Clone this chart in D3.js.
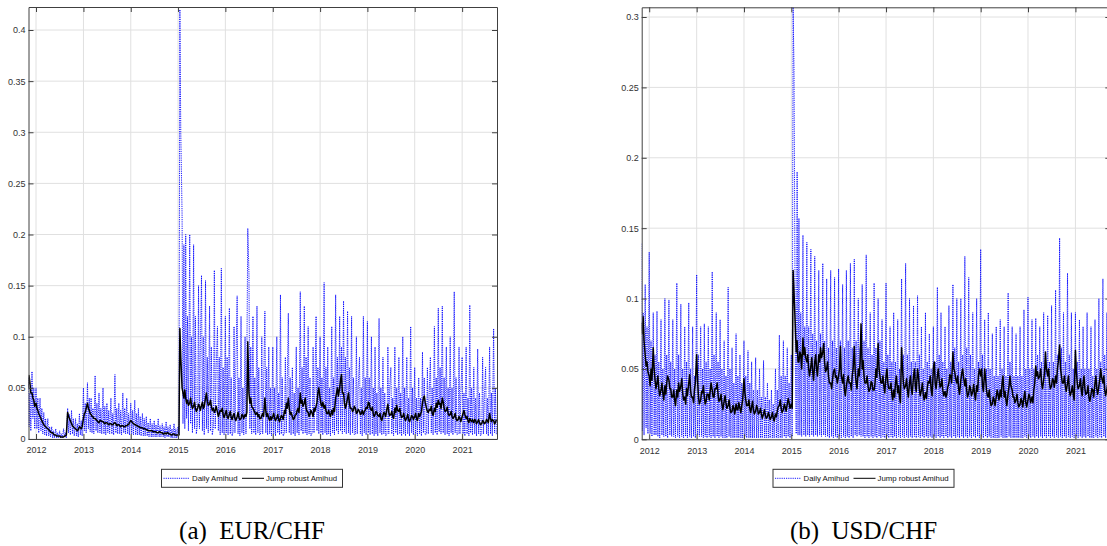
<!DOCTYPE html>
<html>
<head>
<meta charset="utf-8">
<script src="https://cdn.jsdelivr.net/npm/d3@7"></script>
<style>
  body { margin: 0; background: #fff; }
  svg { display: block; }
</style>
</head>
<body>
<svg id="chart" width="1107" height="546"></svg>
<script>
// weekly readings (1st, 8th, 15th, 22nd of each month), Nov 2011 - Sep 2021
// one row per year, four values per month
const yearTicks = [2012, 2013, 2014, 2015, 2016, 2017, 2018, 2019, 2020, 2021];
const eurYTicks = [0, 0.05, 0.1, 0.15, 0.2, 0.25, 0.3, 0.35, 0.4];
const usdYTicks = [0, 0.05, 0.1, 0.15, 0.2, 0.25, 0.3];
const legendLabels = ["Daily Amihud", "Jump robust Amihud"];
const captions = ["(a)  EUR/CHF", "(b)  USD/CHF"];

const eurDaily = [
  0.06, 0.012, 0.045, 0.008, 0.066, 0.02, 0.05, 0.01,
  0.05, 0.01, 0.04, 0.006, 0.04, 0.008, 0.03, 0.005, 0.026, 0.004, 0.02, 0.003, 0.02, 0.003, 0.012, 0.002,
  0.012, 0.001, 0.008, 0.001, 0.01, 0.001, 0.006, 0.001, 0.008, 0.001, 0.005, 0.001, 0.01, 0.002, 0.006, 0.001,
  0.03, 0.006, 0.024, 0.004, 0.028, 0.005, 0.02, 0.003, 0.02, 0.003, 0.015, 0.002, 0.025, 0.004, 0.018, 0.003,
  0.05, 0.008, 0.035, 0.006, 0.055, 0.01, 0.04, 0.007, 0.04, 0.006, 0.03, 0.005, 0.062, 0.008, 0.035, 0.006,
  0.045, 0.006, 0.03, 0.005, 0.05, 0.005, 0.032, 0.004, 0.035, 0.006, 0.028, 0.005, 0.04, 0.005, 0.025, 0.004,
  0.063, 0.006, 0.03, 0.005, 0.035, 0.005, 0.028, 0.004, 0.045, 0.006, 0.03, 0.005, 0.04, 0.005, 0.025, 0.004,
  0.035, 0.005, 0.028, 0.004, 0.038, 0.004, 0.025, 0.004, 0.03, 0.004, 0.022, 0.003, 0.025, 0.003, 0.02, 0.003,
  0.022, 0.003, 0.016, 0.002, 0.02, 0.002, 0.015, 0.002, 0.018, 0.002, 0.014, 0.002, 0.02, 0.002, 0.013, 0.002,
  0.015, 0.002, 0.012, 0.001, 0.017, 0.002, 0.012, 0.002, 0.014, 0.001, 0.01, 0.001, 0.015, 0.001, 0.01, 0.001,
  0.012, 0.004, 0.42, 0.3, 0.22, 0.015, 0.19, 0.01, 0.2, 0.02, 0.12, 0.008, 0.2, 0.015, 0.1, 0.006,
  0.19, 0.01, 0.12, 0.005, 0.015, 0.15, 0.01, 0.09, 0.16, 0.008, 0.1, 0.004, 0.155, 0.01, 0.08, 0.006,
  0.13, 0.008, 0.09, 0.004, 0.012, 0.165, 0.01, 0.07, 0.11, 0.008, 0.08, 0.004, 0.167, 0.006, 0.07, 0.004,
  0.12, 0.006, 0.08, 0.004, 0.128, 0.005, 0.06, 0.003, 0.007, 0.11, 0.006, 0.07, 0.14, 0.005, 0.06, 0.003,
  0.12, 0.006, 0.05, 0.004, 0.1, 0.005, 0.08, 0.206, 0.162, 0.01, 0.09, 0.005, 0.12, 0.006, 0.06, 0.004,
  0.13, 0.006, 0.07, 0.004, 0.006, 0.1, 0.005, 0.05, 0.125, 0.006, 0.07, 0.004, 0.09, 0.005, 0.05, 0.003,
  0.09, 0.005, 0.05, 0.003, 0.1, 0.006, 0.045, 0.004, 0.141, 0.005, 0.06, 0.003, 0.006, 0.08, 0.006, 0.05,
  0.123, 0.006, 0.06, 0.004, 0.07, 0.005, 0.045, 0.003, 0.09, 0.006, 0.05, 0.004, 0.144, 0.008, 0.07, 0.005,
  0.13, 0.006, 0.08, 0.004, 0.11, 0.005, 0.06, 0.003, 0.006, 0.09, 0.006, 0.05, 0.12, 0.008, 0.07, 0.005,
  0.1, 0.006, 0.06, 0.004, 0.153, 0.006, 0.07, 0.004, 0.09, 0.005, 0.05, 0.003, 0.11, 0.006, 0.06, 0.004,
  0.141, 0.008, 0.08, 0.005, 0.12, 0.008, 0.09, 0.005, 0.135, 0.007, 0.08, 0.005, 0.125, 0.006, 0.07, 0.004,
  0.12, 0.006, 0.06, 0.004, 0.005, 0.1, 0.005, 0.05, 0.08, 0.005, 0.05, 0.003, 0.12, 0.006, 0.06, 0.004,
  0.115, 0.006, 0.06, 0.004, 0.1, 0.005, 0.05, 0.003, 0.09, 0.005, 0.045, 0.003, 0.118, 0.006, 0.05, 0.004,
  0.08, 0.005, 0.045, 0.003, 0.005, 0.09, 0.005, 0.05, 0.07, 0.005, 0.04, 0.003, 0.09, 0.006, 0.05, 0.004,
  0.08, 0.005, 0.045, 0.003, 0.1, 0.005, 0.05, 0.003, 0.08, 0.005, 0.04, 0.003, 0.11, 0.006, 0.05, 0.004,
  0.07, 0.005, 0.04, 0.003, 0.06, 0.005, 0.04, 0.003, 0.085, 0.006, 0.06, 0.004, 0.005, 0.07, 0.005, 0.045,
  0.08, 0.006, 0.05, 0.004, 0.11, 0.006, 0.06, 0.004, 0.128, 0.007, 0.07, 0.005, 0.13, 0.006, 0.06, 0.004,
  0.09, 0.005, 0.05, 0.003, 0.1, 0.006, 0.05, 0.004, 0.144, 0.006, 0.06, 0.004, 0.005, 0.09, 0.005, 0.045,
  0.08, 0.005, 0.045, 0.003, 0.09, 0.005, 0.04, 0.003, 0.131, 0.006, 0.05, 0.004, 0.07, 0.005, 0.04, 0.003,
  0.088, 0.005, 0.045, 0.003, 0.005, 0.08, 0.005, 0.04, 0.07, 0.005, 0.04, 0.003, 0.09, 0.005, 0.045, 0.003,
  0.108, 0.006, 0.05, 0.004
];

const eurRobust = [
  0.05, 0.062, 0.055, 0.045, 0.045, 0.04, 0.038, 0.032,
  0.035, 0.03, 0.028, 0.025, 0.022, 0.02, 0.018, 0.016, 0.014, 0.013, 0.012, 0.011, 0.01, 0.009, 0.008, 0.007,
  0.006, 0.006, 0.005, 0.004, 0.004, 0.003, 0.003, 0.003, 0.003, 0.002, 0.002, 0.002, 0.002, 0.003, 0.003, 0.004,
  0.026, 0.022, 0.02, 0.018, 0.015, 0.013, 0.012, 0.011, 0.01, 0.009, 0.008, 0.009, 0.012, 0.011, 0.01, 0.012,
  0.02, 0.025, 0.026, 0.03, 0.035, 0.03, 0.028, 0.025, 0.024, 0.022, 0.022, 0.02, 0.02, 0.019, 0.018, 0.017,
  0.016, 0.018, 0.018, 0.017, 0.017, 0.016, 0.015, 0.016, 0.016, 0.015, 0.014, 0.015, 0.015, 0.014, 0.014, 0.015,
  0.016, 0.015, 0.013, 0.014, 0.014, 0.013, 0.012, 0.013, 0.013, 0.012, 0.012, 0.013, 0.013, 0.014, 0.014, 0.016,
  0.018, 0.017, 0.016, 0.015, 0.014, 0.014, 0.013, 0.013, 0.012, 0.012, 0.011, 0.011, 0.011, 0.01, 0.01, 0.01,
  0.009, 0.009, 0.008, 0.008, 0.008, 0.008, 0.008, 0.007, 0.007, 0.007, 0.007, 0.006, 0.006, 0.007, 0.007, 0.006,
  0.006, 0.005, 0.005, 0.006, 0.005, 0.006, 0.006, 0.005, 0.005, 0.004, 0.004, 0.005, 0.005, 0.004, 0.004, 0.004,
  0.004, 0.004, 0.108, 0.08, 0.05, 0.045, 0.04, 0.048, 0.04, 0.035, 0.038, 0.033, 0.035, 0.04, 0.033, 0.03,
  0.032, 0.036, 0.03, 0.027, 0.03, 0.034, 0.032, 0.028, 0.033, 0.036, 0.03, 0.032, 0.04, 0.045, 0.037, 0.033,
  0.034, 0.038, 0.032, 0.028, 0.03, 0.026, 0.028, 0.032, 0.026, 0.022, 0.025, 0.028, 0.027, 0.03, 0.024, 0.021,
  0.025, 0.028, 0.022, 0.02, 0.024, 0.027, 0.021, 0.019, 0.023, 0.025, 0.02, 0.018, 0.022, 0.026, 0.021, 0.019,
  0.02, 0.024, 0.023, 0.02, 0.024, 0.022, 0.026, 0.095, 0.045, 0.035, 0.04, 0.032, 0.03, 0.028, 0.026, 0.024,
  0.026, 0.022, 0.024, 0.02, 0.02, 0.023, 0.025, 0.022, 0.04, 0.028, 0.022, 0.025, 0.02, 0.018, 0.022, 0.019,
  0.022, 0.025, 0.02, 0.018, 0.021, 0.024, 0.019, 0.017, 0.02, 0.023, 0.022, 0.019, 0.028, 0.025, 0.035, 0.03,
  0.04, 0.03, 0.024, 0.026, 0.022, 0.019, 0.02, 0.023, 0.024, 0.028, 0.03, 0.026, 0.045, 0.035, 0.038, 0.032,
  0.035, 0.04, 0.03, 0.027, 0.026, 0.022, 0.024, 0.028, 0.025, 0.022, 0.03, 0.027, 0.032, 0.036, 0.045, 0.05,
  0.04, 0.034, 0.032, 0.036, 0.03, 0.033, 0.028, 0.025, 0.025, 0.028, 0.024, 0.022, 0.028, 0.024, 0.03, 0.027,
  0.04, 0.045, 0.05, 0.042, 0.05, 0.058, 0.063, 0.045, 0.045, 0.035, 0.03, 0.033, 0.04, 0.045, 0.035, 0.03,
  0.03, 0.027, 0.028, 0.032, 0.03, 0.025, 0.026, 0.029, 0.027, 0.024, 0.025, 0.028, 0.024, 0.027, 0.028, 0.031,
  0.03, 0.036, 0.035, 0.03, 0.028, 0.031, 0.025, 0.022, 0.024, 0.027, 0.026, 0.023, 0.022, 0.025, 0.02, 0.018,
  0.023, 0.026, 0.025, 0.022, 0.03, 0.034, 0.026, 0.023, 0.024, 0.027, 0.022, 0.02, 0.03, 0.026, 0.033, 0.028,
  0.027, 0.03, 0.024, 0.021, 0.022, 0.025, 0.02, 0.018, 0.021, 0.024, 0.019, 0.017, 0.02, 0.023, 0.022, 0.019,
  0.022, 0.025, 0.02, 0.018, 0.025, 0.022, 0.024, 0.027, 0.035, 0.04, 0.042, 0.036, 0.03, 0.027, 0.026, 0.029,
  0.028, 0.032, 0.025, 0.023, 0.03, 0.027, 0.035, 0.031, 0.038, 0.034, 0.035, 0.03, 0.04, 0.036, 0.03, 0.027,
  0.028, 0.031, 0.025, 0.023, 0.024, 0.027, 0.022, 0.02, 0.022, 0.025, 0.02, 0.018, 0.019, 0.022, 0.02, 0.017,
  0.022, 0.025, 0.028, 0.024, 0.02, 0.022, 0.018, 0.016, 0.02, 0.018, 0.017, 0.019, 0.016, 0.019, 0.018, 0.015,
  0.017, 0.019, 0.016, 0.014, 0.015, 0.018, 0.017, 0.015, 0.016, 0.019, 0.018, 0.016, 0.025, 0.02, 0.017, 0.019,
  0.018, 0.015, 0.016, 0.019
];

const usdDaily = [
  0.139, 0.006, 0.09, 0.003, 0.11, 0.008, 0.08, 0.004,
  0.133, 0.004, 0.07, 0.002, 0.09, 0.003, 0.06, 0.003, 0.091, 0.002, 0.055, 0.001, 0.085, 0.003, 0.05, 0.002,
  0.1, 0.002, 0.06, 0.001, 0.099, 0.003, 0.055, 0.002, 0.085, 0.002, 0.05, 0.001, 0.111, 0.002, 0.06, 0.001,
  0.096, 0.002, 0.05, 0.001, 0.08, 0.002, 0.055, 0.001, 0.097, 0.002, 0.05, 0.001, 0.08, 0.002, 0.045, 0.001,
  0.117, 0.003, 0.06, 0.002, 0.08, 0.002, 0.05, 0.001, 0.082, 0.002, 0.055, 0.001, 0.08, 0.002, 0.05, 0.001,
  0.119, 0.002, 0.06, 0.001, 0.09, 0.002, 0.055, 0.001, 0.085, 0.002, 0.05, 0.001, 0.07, 0.001, 0.045, 0.001,
  0.108, 0.002, 0.05, 0.001, 0.065, 0.001, 0.04, 0.001, 0.075, 0.001, 0.045, 0.001, 0.06, 0.001, 0.04, 0.001,
  0.07, 0.002, 0.045, 0.001, 0.063, 0.001, 0.04, 0.001, 0.055, 0.001, 0.035, 0.001, 0.058, 0.001, 0.035, 0.001,
  0.05, 0.001, 0.03, 0.001, 0.056, 0.001, 0.03, 0.001, 0.04, 0.001, 0.028, 0.001, 0.035, 0.001, 0.025, 0.001,
  0.05, 0.001, 0.035, 0.001, 0.074, 0.001, 0.045, 0.001, 0.07, 0.002, 0.045, 0.001, 0.065, 0.002, 0.04, 0.001,
  0.06, 0.002, 0.307, 0.263, 0.06, 0.004, 0.19, 0.003, 0.157, 0.003, 0.09, 0.002, 0.145, 0.003, 0.08, 0.002,
  0.14, 0.003, 0.08, 0.002, 0.135, 0.003, 0.075, 0.002, 0.13, 0.003, 0.07, 0.002, 0.12, 0.003, 0.075, 0.002,
  0.125, 0.003, 0.07, 0.002, 0.114, 0.002, 0.065, 0.001, 0.12, 0.002, 0.07, 0.001, 0.115, 0.002, 0.065, 0.001,
  0.121, 0.002, 0.07, 0.001, 0.11, 0.002, 0.065, 0.001, 0.12, 0.002, 0.07, 0.001, 0.125, 0.002, 0.065, 0.001,
  0.128, 0.003, 0.07, 0.002, 0.1, 0.003, 0.065, 0.002, 0.11, 0.002, 0.07, 0.001, 0.131, 0.002, 0.065, 0.001,
  0.09, 0.002, 0.06, 0.001, 0.111, 0.002, 0.065, 0.001, 0.1, 0.002, 0.07, 0.001, 0.085, 0.002, 0.055, 0.001,
  0.111, 0.002, 0.06, 0.001, 0.08, 0.002, 0.055, 0.001, 0.09, 0.002, 0.055, 0.001, 0.085, 0.002, 0.05, 0.001,
  0.114, 0.002, 0.06, 0.001, 0.125, 0.002, 0.06, 0.001, 0.1, 0.002, 0.055, 0.001, 0.095, 0.002, 0.055, 0.001,
  0.102, 0.002, 0.06, 0.001, 0.08, 0.002, 0.05, 0.001, 0.09, 0.002, 0.055, 0.001, 0.075, 0.002, 0.05, 0.001,
  0.08, 0.002, 0.055, 0.001, 0.108, 0.002, 0.06, 0.001, 0.09, 0.002, 0.055, 0.001, 0.08, 0.002, 0.05, 0.001,
  0.095, 0.002, 0.055, 0.001, 0.11, 0.002, 0.065, 0.001, 0.1, 0.002, 0.055, 0.001, 0.1, 0.002, 0.06, 0.001,
  0.13, 0.002, 0.065, 0.001, 0.115, 0.002, 0.06, 0.001, 0.09, 0.002, 0.05, 0.001, 0.1, 0.002, 0.055, 0.001,
  0.135, 0.002, 0.06, 0.001, 0.085, 0.002, 0.05, 0.001, 0.09, 0.002, 0.05, 0.001, 0.075, 0.001, 0.045, 0.001,
  0.08, 0.001, 0.045, 0.001, 0.085, 0.002, 0.05, 0.001, 0.08, 0.001, 0.045, 0.001, 0.104, 0.002, 0.055, 0.001,
  0.08, 0.001, 0.045, 0.001, 0.075, 0.001, 0.045, 0.001, 0.08, 0.001, 0.045, 0.001, 0.092, 0.002, 0.05, 0.001,
  0.101, 0.002, 0.05, 0.001, 0.085, 0.002, 0.05, 0.001, 0.086, 0.002, 0.06, 0.001, 0.08, 0.002, 0.055, 0.001,
  0.09, 0.002, 0.055, 0.001, 0.088, 0.002, 0.055, 0.001, 0.095, 0.002, 0.055, 0.001, 0.106, 0.002, 0.06, 0.001,
  0.143, 0.002, 0.065, 0.001, 0.09, 0.002, 0.055, 0.001, 0.118, 0.002, 0.06, 0.001, 0.09, 0.002, 0.05, 0.001,
  0.09, 0.002, 0.055, 0.001, 0.085, 0.002, 0.05, 0.001, 0.08, 0.002, 0.05, 0.001, 0.09, 0.002, 0.05, 0.001,
  0.08, 0.001, 0.045, 0.001, 0.085, 0.002, 0.05, 0.001, 0.1, 0.002, 0.055, 0.001, 0.114, 0.002, 0.06, 0.001,
  0.09, 0.002, 0.05, 0.001
];

const usdRobust = [
  0.083, 0.075, 0.087, 0.07, 0.06, 0.052, 0.055, 0.048,
  0.045, 0.038, 0.05, 0.042, 0.065, 0.05, 0.042, 0.036, 0.04, 0.045, 0.036, 0.031, 0.035, 0.04, 0.033, 0.028,
  0.038, 0.032, 0.04, 0.045, 0.042, 0.036, 0.036, 0.03, 0.03, 0.035, 0.028, 0.024, 0.035, 0.03, 0.04, 0.034,
  0.038, 0.043, 0.033, 0.028, 0.03, 0.025, 0.036, 0.031, 0.04, 0.046, 0.035, 0.03, 0.03, 0.026, 0.035, 0.04,
  0.06, 0.042, 0.03, 0.025, 0.028, 0.034, 0.033, 0.038, 0.03, 0.025, 0.027, 0.032, 0.032, 0.028, 0.034, 0.04,
  0.035, 0.03, 0.03, 0.036, 0.036, 0.04, 0.032, 0.027, 0.028, 0.032, 0.025, 0.021, 0.027, 0.031, 0.026, 0.022,
  0.024, 0.028, 0.022, 0.019, 0.02, 0.024, 0.022, 0.018, 0.025, 0.021, 0.021, 0.026, 0.022, 0.019, 0.024, 0.028,
  0.043, 0.033, 0.028, 0.024, 0.024, 0.028, 0.022, 0.019, 0.023, 0.027, 0.021, 0.018, 0.02, 0.024, 0.022, 0.018,
  0.019, 0.022, 0.018, 0.015, 0.018, 0.021, 0.017, 0.015, 0.016, 0.019, 0.017, 0.014, 0.016, 0.019, 0.015, 0.013,
  0.018, 0.016, 0.02, 0.023, 0.024, 0.028, 0.022, 0.019, 0.021, 0.025, 0.023, 0.02, 0.025, 0.029, 0.026, 0.022,
  0.025, 0.022, 0.12, 0.105, 0.08, 0.062, 0.07, 0.055, 0.055, 0.062, 0.06, 0.05, 0.072, 0.06, 0.065, 0.058,
  0.055, 0.06, 0.05, 0.045, 0.052, 0.058, 0.048, 0.042, 0.055, 0.06, 0.05, 0.045, 0.06, 0.055, 0.065, 0.058,
  0.062, 0.068, 0.055, 0.048, 0.05, 0.055, 0.045, 0.04, 0.04, 0.036, 0.042, 0.048, 0.05, 0.044, 0.045, 0.04,
  0.045, 0.05, 0.066, 0.045, 0.04, 0.046, 0.035, 0.031, 0.038, 0.042, 0.045, 0.04, 0.04, 0.035, 0.045, 0.05,
  0.066, 0.048, 0.04, 0.036, 0.05, 0.045, 0.055, 0.082, 0.05, 0.056, 0.045, 0.04, 0.04, 0.045, 0.038, 0.034,
  0.036, 0.041, 0.04, 0.035, 0.035, 0.04, 0.05, 0.044, 0.068, 0.05, 0.045, 0.04, 0.04, 0.045, 0.038, 0.033,
  0.045, 0.05, 0.04, 0.036, 0.036, 0.04, 0.032, 0.028, 0.035, 0.03, 0.04, 0.045, 0.033, 0.038, 0.03, 0.026,
  0.065, 0.05, 0.04, 0.036, 0.038, 0.043, 0.035, 0.03, 0.04, 0.045, 0.036, 0.032, 0.045, 0.05, 0.038, 0.034,
  0.05, 0.045, 0.036, 0.031, 0.035, 0.04, 0.032, 0.028, 0.033, 0.029, 0.036, 0.041, 0.04, 0.045, 0.035, 0.031,
  0.05, 0.055, 0.04, 0.036, 0.045, 0.05, 0.042, 0.037, 0.038, 0.043, 0.035, 0.031, 0.034, 0.03, 0.032, 0.037,
  0.04, 0.046, 0.045, 0.04, 0.062, 0.05, 0.048, 0.043, 0.04, 0.045, 0.036, 0.032, 0.042, 0.047, 0.05, 0.044,
  0.038, 0.043, 0.035, 0.03, 0.033, 0.038, 0.036, 0.031, 0.034, 0.039, 0.032, 0.028, 0.038, 0.034, 0.045, 0.05,
  0.045, 0.05, 0.038, 0.034, 0.05, 0.043, 0.035, 0.031, 0.03, 0.035, 0.028, 0.024, 0.025, 0.03, 0.028, 0.024,
  0.03, 0.035, 0.032, 0.028, 0.035, 0.03, 0.04, 0.045, 0.03, 0.034, 0.028, 0.024, 0.033, 0.038, 0.045, 0.038,
  0.035, 0.03, 0.03, 0.026, 0.028, 0.032, 0.026, 0.023, 0.025, 0.029, 0.027, 0.023, 0.03, 0.034, 0.026, 0.023,
  0.028, 0.032, 0.03, 0.026, 0.03, 0.026, 0.035, 0.04, 0.052, 0.045, 0.048, 0.043, 0.045, 0.05, 0.04, 0.036,
  0.042, 0.048, 0.062, 0.05, 0.045, 0.05, 0.04, 0.036, 0.038, 0.043, 0.042, 0.037, 0.045, 0.04, 0.05, 0.055,
  0.067, 0.05, 0.045, 0.04, 0.04, 0.045, 0.038, 0.034, 0.04, 0.045, 0.035, 0.031, 0.034, 0.038, 0.032, 0.028,
  0.063, 0.048, 0.04, 0.036, 0.038, 0.043, 0.035, 0.031, 0.04, 0.045, 0.036, 0.032, 0.033, 0.038, 0.03, 0.027,
  0.032, 0.036, 0.035, 0.03, 0.04, 0.045, 0.036, 0.032, 0.038, 0.043, 0.05, 0.044, 0.04, 0.045, 0.035, 0.031,
  0.036, 0.04, 0.03, 0.027
];

const dates = d3.range(eurDaily.length)
  .map((i) => new Date(2011, 10 + Math.floor(i / 4), 1 + 7 * (i % 4)));

const svg = d3.select("#chart");
const tickFont = "'Liberation Sans', Arial, sans-serif";

function drawPanel(cfg) {
  const { left, right, top, bottom } = cfg.box;

  const x = d3
    .scaleTime()
    .domain([new Date(2011, 10, 4), new Date(2021, 8, 27)])
    .range([left, right]);
  const y = d3.scaleLinear().domain([0, cfg.yMax]).range([bottom, top]);

  const g = svg.append("g");

  g.append("clipPath")
    .attr("id", cfg.id + "-clip")
    .append("rect")
    .attr("x", left)
    .attr("y", top)
    .attr("width", right - left)
    .attr("height", bottom - top);

  // grid
  g.append("g")
    .selectAll("line")
    .data(cfg.yTicks)
    .join("line")
    .attr("x1", left)
    .attr("x2", right)
    .attr("y1", (d) => y(d))
    .attr("y2", (d) => y(d))
    .attr("stroke", "#e0e0e0")
    .attr("stroke-width", 1);
  g.append("g")
    .selectAll("line")
    .data(yearTicks)
    .join("line")
    .attr("x1", (d) => x(new Date(d, 0, 1)))
    .attr("x2", (d) => x(new Date(d, 0, 1)))
    .attr("y1", top)
    .attr("y2", bottom)
    .attr("stroke", "#e0e0e0")
    .attr("stroke-width", 1);

  const line = d3
    .line()
    .x((d, i) => x(dates[i]))
    .y((d) => y(d));

  const plot = g.append("g").attr("clip-path", `url(#${cfg.id}-clip)`);
  plot
    .append("path")
    .attr("d", line(cfg.daily))
    .attr("fill", "none")
    .attr("stroke", "#0000ff")
    .attr("stroke-width", 0.9)
    .attr("stroke-dasharray", "1.2,1");
  plot
    .append("path")
    .attr("d", line(cfg.robust))
    .attr("fill", "none")
    .attr("stroke", "#000")
    .attr("stroke-width", 1.5)
    .attr("stroke-linejoin", "round");

  // axes, ticks pointing inward
  const yearDates = yearTicks.map((d) => new Date(d, 0, 1));
  const styleAxis = (sel) => {
    sel.select(".domain").attr("stroke", "#404040").attr("stroke-width", 1);
    sel.selectAll(".tick line").attr("stroke", "#404040");
    sel
      .selectAll(".tick text")
      .attr("fill", "#333")
      .style("font-family", tickFont)
      .style("font-size", "9px");
  };

  g.append("g")
    .attr("transform", `translate(0,${bottom})`)
    .call(
      d3
        .axisBottom(x)
        .tickValues(yearDates)
        .tickFormat(d3.timeFormat("%Y"))
        .tickSizeInner(-5)
        .tickSizeOuter(0)
        .tickPadding(8)
    )
    .call(styleAxis);
  g.append("g")
    .attr("transform", `translate(0,${top})`)
    .call(
      d3.axisTop(x).tickValues(yearDates).tickFormat("").tickSizeInner(-5).tickSizeOuter(0)
    )
    .call(styleAxis);
  g.append("g")
    .attr("transform", `translate(${left},0)`)
    .call(
      d3
        .axisLeft(y)
        .tickValues(cfg.yTicks)
        .tickFormat(d3.format("~g"))
        .tickSizeInner(-5)
        .tickSizeOuter(0)
        .tickPadding(3)
    )
    .call(styleAxis);
  g.append("g")
    .attr("transform", `translate(${right},0)`)
    .call(
      d3.axisRight(y).tickValues(cfg.yTicks).tickFormat("").tickSizeInner(-5).tickSizeOuter(0)
    )
    .call(styleAxis);

  // legend
  const bx = cfg.cx - 90.5;
  const by = 469.3;
  const legend = g.append("g");
  legend
    .append("rect")
    .attr("x", bx)
    .attr("y", by)
    .attr("width", 181)
    .attr("height", 18)
    .attr("fill", "#fff")
    .attr("stroke", "#333")
    .attr("stroke-width", 1);
  legend
    .append("line")
    .attr("x1", bx + 2)
    .attr("x2", bx + 28)
    .attr("y1", by + 9)
    .attr("y2", by + 9)
    .attr("stroke", "#0000ff")
    .attr("stroke-width", 0.9)
    .attr("stroke-dasharray", "1.2,1");
  legend
    .append("line")
    .attr("x1", bx + 80.5)
    .attr("x2", bx + 102.5)
    .attr("y1", by + 9)
    .attr("y2", by + 9)
    .attr("stroke", "#000")
    .attr("stroke-width", 1);
  legend
    .selectAll("text")
    .data(legendLabels)
    .join("text")
    .attr("x", (d, i) => bx + (i === 0 ? 30.5 : 104.5))
    .attr("y", by + 11.8)
    .style("font-family", tickFont)
    .style("font-size", "7.8px")
    .attr("fill", "#111")
    .text((d) => d);

  g.append("text")
    .attr("x", cfg.cx)
    .attr("y", 538.5)
    .attr("text-anchor", "middle")
    .style("font-family", "'Liberation Serif', 'Times New Roman', serif")
    .style("font-size", "25px")
    .style("white-space", "pre")
    .attr("fill", "#000")
    .text(cfg.caption);
}

drawPanel({
  id: "eur",
  box: { left: 28.5, right: 497, top: 7, bottom: 439 },
  yMax: 0.4225,
  yTicks: eurYTicks,
  daily: eurDaily,
  robust: eurRobust,
  cx: 252,
  caption: captions[0],
});

drawPanel({
  id: "usd",
  box: { left: 641.7, right: 1110.3, top: 7.3, bottom: 439.3 },
  yMax: 0.3069,
  yTicks: usdYTicks,
  daily: usdDaily,
  robust: usdRobust,
  cx: 863.5,
  caption: captions[1],
});
</script>
</body>
</html>
